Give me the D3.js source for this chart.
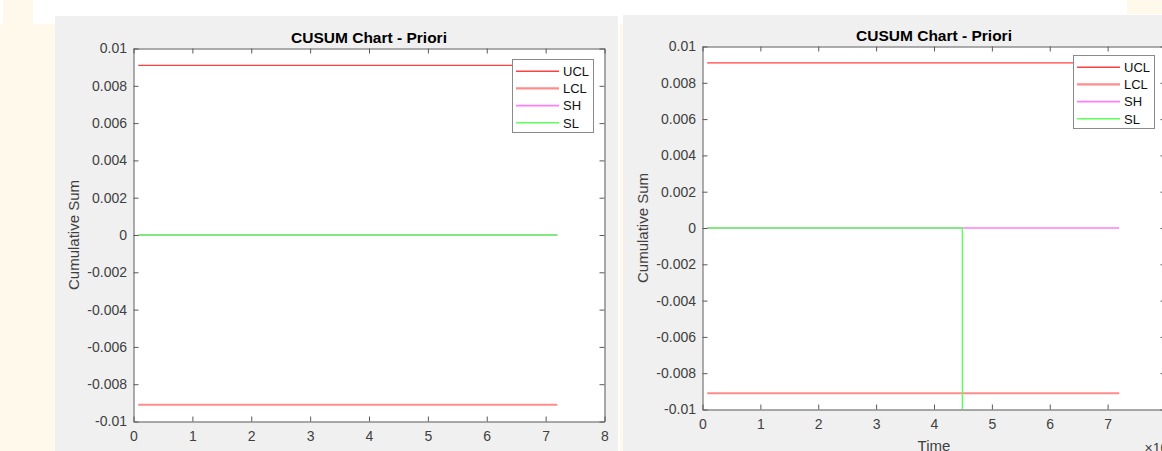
<!DOCTYPE html>
<html>
<head>
<meta charset="utf-8">
<script src="https://cdn.jsdelivr.net/npm/d3@7"></script>
<style>
  body { margin: 0; background: #fff; }
  svg { display: block; font-family: "Liberation Sans", Arial, Helvetica, sans-serif; }
  .tick text { fill: #404040; font-size: 14px; }
  .domain, .tick line { stroke: #5a5a5a; }
</style>
</head>
<body>
<svg id="chart"></svg>
<script>
// legend entries and colours
const seriesNames = ["UCL", "LCL", "SH", "SL"];
const seriesColors = { UCL: "#ff4040", LCL: "#ff8c8c", SH: "#ff7dff", SL: "#5cff5c" };
const seriesWidths = { UCL: 1.3, LCL: 2, SH: 1.6, SL: 1.4 };

// axis ticks (time axis is shown in units of 10^4)
const xTicks = [0, 10000, 20000, 30000, 40000, 50000, 60000, 70000, 80000];
const yTicks = [-0.01, -0.008, -0.006, -0.004, -0.002, 0, 0.002, 0.004, 0.006, 0.008, 0.01];

// left figure
const leftTime = [800, 72000];
const leftUCL = [0.0091, 0.0091];
const leftLCL = [-0.0091, -0.0091];
const leftSH = [0, 0];
const leftSL = [0, 0];

// right figure (SL drops away at the shift)
const rightTime = [800, 44900, 44900, 72000];
const rightUCL = [0.0091, 0.0091, 0.0091, 0.0091];
const rightLCL = [-0.0091, -0.0091, -0.0091, -0.0091];
const rightSH = [0, 0, 0, 0];
const rightSL = [0, 0, -0.03, -0.03];

const width = 1162, height = 451;

const svg = d3.select("#chart")
    .attr("width", width)
    .attr("height", height);

// page background bits around the two figure windows
svg.append("rect").attr("x", 3).attr("y", 0).attr("width", 30).attr("height", 24).attr("fill", "#fff9ec");
svg.append("rect").attr("x", 0).attr("y", 24).attr("width", 55).attr("height", height - 24).attr("fill", "#fff9ec");
svg.append("rect").attr("x", 620).attr("y", 24).attr("width", 3).attr("height", height - 24).attr("fill", "#fff9ec");
svg.append("rect").attr("x", 1127).attr("y", 0).attr("width", 35).attr("height", 14).attr("fill", "#fff9ec");

// matlab style labels: plain hyphen, no trailing zeros
const fmtY = d => String(+d.toFixed(3));

function drawFigure(cfg) {
    const { panel, plot, legend, time, series, id } = cfg;

    svg.append("rect")
        .attr("x", panel.x).attr("y", panel.y)
        .attr("width", panel.w).attr("height", panel.h)
        .attr("fill", "#f0f0f0");

    const x = d3.scaleLinear().domain([0, 80000]).range([plot.left, plot.right]);
    const y = d3.scaleLinear().domain([-0.01, 0.01]).range([plot.bottom, plot.top]);

    const clipRight = Math.min(plot.right, panel.x + panel.w);
    svg.append("clipPath").attr("id", "clip-" + id)
        .append("rect")
        .attr("x", plot.left).attr("y", plot.top)
        .attr("width", clipRight - plot.left).attr("height", plot.bottom - plot.top);
    svg.append("clipPath").attr("id", "panel-" + id)
        .append("rect")
        .attr("x", panel.x).attr("y", panel.y)
        .attr("width", panel.w).attr("height", panel.h);

    const root = svg.append("g").attr("clip-path", "url(#panel-" + id + ")");

    root.append("rect")
        .attr("x", plot.left).attr("y", plot.top)
        .attr("width", plot.right - plot.left).attr("height", plot.bottom - plot.top)
        .attr("fill", "#fff");

    const line = d3.line()
        .x(d => x(d[0]))
        .y(d => y(d[1]));

    const lines = root.append("g").attr("clip-path", "url(#clip-" + id + ")");
    seriesNames.forEach(name => {
        lines.append("path")
            .datum(time.map((t, i) => [t, series[name][i]]))
            .attr("d", line)
            .attr("fill", "none")
            .attr("stroke", seriesColors[name])
            .attr("stroke-width", seriesWidths[name]);
    });

    // axes, ticks pointing inward like matlab
    root.append("g")
        .attr("transform", `translate(0,${plot.bottom})`)
        .call(d3.axisBottom(x).tickValues(xTicks).tickSize(-5).tickSizeOuter(0)
            .tickPadding(10).tickFormat(d => d / 10000));
    root.append("g")
        .attr("transform", `translate(0,${plot.top})`)
        .call(d3.axisTop(x).tickValues(xTicks).tickSize(-5).tickSizeOuter(0).tickFormat(""));
    root.append("g")
        .attr("transform", `translate(${plot.left},0)`)
        .call(d3.axisLeft(y).tickValues(yTicks).tickSize(-5).tickSizeOuter(0)
            .tickPadding(6.5).tickFormat(fmtY));
    root.append("g")
        .attr("transform", `translate(${plot.right},0)`)
        .call(d3.axisRight(y).tickValues(yTicks).tickSize(-5).tickSizeOuter(0).tickFormat(""));

    root.selectAll(".tick text").attr("font-size", 14);

    const cx = (plot.left + plot.right) / 2;

    root.append("text")
        .attr("x", cx).attr("y", plot.top - 6)
        .attr("text-anchor", "middle")
        .attr("font-size", 15.5).attr("font-weight", "bold")
        .attr("fill", "#000")
        .text("CUSUM Chart - Priori");

    root.append("text")
        .attr("transform", `translate(${plot.left - 55},${(plot.top + plot.bottom) / 2}) rotate(-90)`)
        .attr("text-anchor", "middle")
        .attr("font-size", 15).attr("fill", "#404040")
        .text("Cumulative Sum");

    root.append("text")
        .attr("x", cx).attr("y", plot.bottom + 41)
        .attr("text-anchor", "middle")
        .attr("font-size", 15).attr("fill", "#404040")
        .text("Time");

    const expo = root.append("text")
        .attr("x", plot.right - 21).attr("y", plot.bottom + 43)
        .attr("font-size", 14).attr("fill", "#404040");
    expo.append("tspan").text("\u00d710");
    expo.append("tspan").attr("dy", -6).attr("font-size", 10).text("4");

    // legend
    const lg = root.append("g").attr("class", "legend")
        .attr("transform", `translate(${legend.x},${legend.y})`);
    lg.append("rect")
        .attr("x", 0.5).attr("y", 0.5)
        .attr("width", 81).attr("height", 73)
        .attr("fill", "#fff").attr("stroke", "#8a8a8a");
    seriesNames.forEach((name, i) => {
        const ly = 12.2 + i * 17.2;
        lg.append("path")
            .attr("d", `M4,${ly}H47`)
            .style("stroke", seriesColors[name])
            .style("stroke-width", seriesWidths[name] + 0.2);
        lg.append("text")
            .attr("x", 51).attr("y", ly + 4.8)
            .attr("font-size", 13).attr("fill", "#111")
            .text(name);
    });
}

drawFigure({
    id: "left",
    panel: { x: 55, y: 16, w: 563, h: height - 16 },
    plot: { left: 133.5, right: 604.5, top: 48.5, bottom: 421.5 },
    legend: { x: 512, y: 59 },
    time: leftTime,
    series: { UCL: leftUCL, LCL: leftLCL, SH: leftSH, SL: leftSL }
});

drawFigure({
    id: "right",
    panel: { x: 623, y: 15, w: width - 623, h: height - 15 },
    plot: { left: 702.5, right: 1165.5, top: 46.5, bottom: 409.5 },
    legend: { x: 1073, y: 55 },
    time: rightTime,
    series: { UCL: rightUCL, LCL: rightLCL, SH: rightSH, SL: rightSL }
});
</script>
</body>
</html>
